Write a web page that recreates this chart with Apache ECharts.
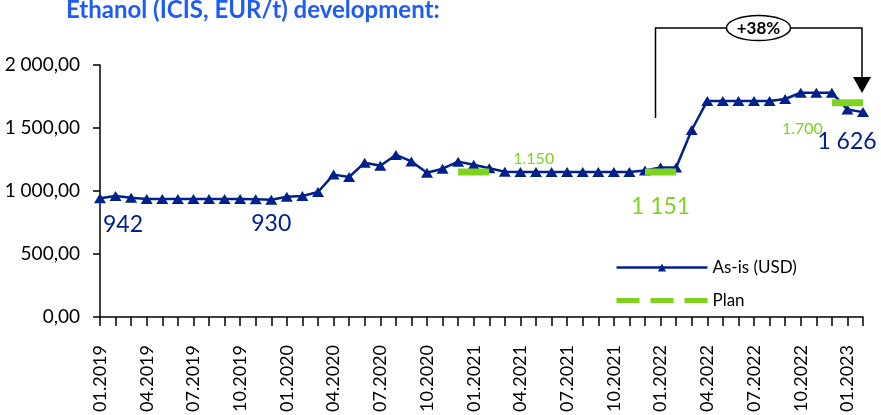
<!DOCTYPE html>
<html>
<head>
<meta charset="utf-8">
<title>Ethanol development</title>
<script src="https://cdn.jsdelivr.net/npm/echarts@6.0.0/dist/echarts.min.js"></script>
<style>
  html, body { margin: 0; padding: 0; background: #fff; }
  #chart { width: 881px; height: 415px; }
</style>
</head>
<body>
<div id="chart"></div>
<script>
// monthly categories
const months = [
  "01.2019", "02.2019", "03.2019", "04.2019", "05.2019", "06.2019", "07.2019", "08.2019", "09.2019", "10.2019", "11.2019", "12.2019",
  "01.2020", "02.2020", "03.2020", "04.2020", "05.2020", "06.2020", "07.2020", "08.2020", "09.2020", "10.2020", "11.2020", "12.2020",
  "01.2021", "02.2021", "03.2021", "04.2021", "05.2021", "06.2021", "07.2021", "08.2021", "09.2021", "10.2021", "11.2021", "12.2021",
  "01.2022", "02.2022", "03.2022", "04.2022", "05.2022", "06.2022", "07.2022", "08.2022", "09.2022", "10.2022", "11.2022", "12.2022",
  "01.2023", "02.2023"
];

// As-is price, EUR/t
const asIsValues = [
  942, 960, 947, 936, 937, 936, 936, 936, 936, 936, 934, 930,
  955, 960, 992, 1130, 1111, 1225, 1200, 1286, 1235, 1145, 1177, 1233,
  1209, 1180, 1153, 1151, 1151, 1151, 1151, 1151, 1151, 1151, 1150, 1163,
  1186, 1186, 1484, 1715, 1715, 1715, 1715, 1715, 1730, 1780, 1780, 1780,
  1646, 1626
];

// plan segments (null = no plan)
const planValues = [
  null, null, null, null, null, null, null, null, null, null, null, null,
  null, null, null, null, null, null, null, null, null, null, null, 1150,
  1150, 1150, null, null, null, null, null, null, null, null, null, 1150,
  1150, 1150, null, null, null, null, null, null, null, null, null, 1700,
  1700, 1700
];

// value callouts: [index, text]
const asIsCallouts = [[0, "942"], [11, "930"], [49, "1 626"]];
const planCallouts = [[24, "1.150"], [36, "1 151"], [48, "1.700"]];

const seriesNames = ["As-is (USD)", "Plan"];
const titleText = "Ethanol (ICIS, EUR/t) development:";
const changeText = "+38%";

const NAVY = "#00208c";
const GREEN = "#7fd320";
const FONT = "Lato";

// label placement for the callouts
const asIsLabelStyle = {
  0: { position: "bottom", align: "left", distance: 10, offset: [3, 0] },
  11: { position: "bottom", distance: 7 },
  49: { position: "bottom", distance: 13, offset: [-16, 0] },
};
const planLabelStyle = {
  24: { position: "top", distance: 5, offset: [60, 0], fontSize: 16 },
  36: { position: "bottom", distance: 22, fontSize: 23 },
  48: { position: "bottom", distance: 18, offset: [-45, 0], fontSize: 16 },
};

// callout points get a tiny symbol so their label is drawn
function withCallouts(values, callouts, styles, color, defaultSize, pointSymbol) {
  return values.map((v, i) => {
    const c = callouts.find((x) => x[0] === i);
    if (!c) return v;
    const item = {
      value: v,
      label: Object.assign(
        { show: true, formatter: c[1], color: color, fontFamily: FONT, fontSize: defaultSize },
        styles[i]
      ),
    };
    if (pointSymbol) {
      item.symbol = pointSymbol;
      item.symbolSize = 1;
    }
    return item;
  });
}

function fmtY(v) {
  const parts = v.toFixed(2).split(".");
  return parts[0].replace(/\B(?=(\d{3})+(?!\d))/g, " ") + "," + parts[1];
}

const chart = echarts.init(document.getElementById("chart"));

chart.setOption({
  backgroundColor: "#fff",
  animation: false,
  textStyle: { fontFamily: FONT },
  title: {
    text: titleText,
    left: 66,
    top: -2,
    padding: 0,
    textStyle: { color: "#1f5cf5", fontSize: 24, fontWeight: "bold", fontFamily: FONT },
  },
  grid: {
    left: 100,
    right: 18,
    top: 65,
    bottom: 98,
    outerBoundsMode: "none",
  },
  legend: {
    orient: "vertical",
    left: 614,
    top: 259,
    padding: 0,
    itemWidth: 91,
    itemHeight: 10,
    itemGap: 16,
    textStyle: { color: "#000", fontSize: 17, fontFamily: FONT },
    data: [
      { name: seriesNames[0], lineStyle: { width: 2.5, color: NAVY } },
      {
        name: seriesNames[1],
        lineStyle: { width: 5, color: GREEN, type: [23, 11] },
        itemStyle: { opacity: 0 },
      },
    ],
  },
  xAxis: {
    type: "category",
    data: months,
    boundaryGap: false,
    axisLine: { lineStyle: { color: "#000", width: 1.5 } },
    axisTick: { show: true, interval: 0, length: 9, lineStyle: { color: "#000", width: 1.5 } },
    axisLabel: {
      interval: 2,
      rotate: 90,
      margin: 28,
      color: "#000",
      fontSize: 18,
      fontFamily: FONT,
    },
    splitLine: { show: false },
  },
  yAxis: {
    type: "value",
    min: 0,
    max: 2000,
    interval: 500,
    axisLine: { show: true, lineStyle: { color: "#000", width: 1.5 } },
    axisTick: { show: true, length: 7, lineStyle: { color: "#000", width: 1.5 } },
    axisLabel: { formatter: fmtY, margin: 20, color: "#000", fontSize: 19, fontFamily: FONT },
    splitLine: { show: false },
  },
  series: [
    {
      name: seriesNames[0],
      type: "line",
      data: withCallouts(asIsValues, asIsCallouts, asIsLabelStyle, NAVY, 23, null),
      symbol: "triangle",
      symbolSize: [12, 10],
      showAllSymbol: true,
      lineStyle: { color: NAVY, width: 2.5 },
      itemStyle: { color: NAVY },
      z: 2,
    },
    {
      name: seriesNames[1],
      type: "line",
      data: withCallouts(planValues, planCallouts, planLabelStyle, GREEN, 16, "circle"),
      symbol: "none",
      showAllSymbol: true,
      connectNulls: false,
      lineStyle: { color: GREEN, width: 7, cap: "butt" },
      itemStyle: { color: GREEN },
      z: 3,
    },
  ],
  graphic: [
    {
      type: "polyline",
      shape: { points: [[655.5, 118], [655.5, 28], [862, 28], [862, 80]] },
      style: { stroke: "#000", lineWidth: 1.5, fill: null },
      z: 10,
    },
    {
      type: "polygon",
      shape: { points: [[853, 77], [871, 77], [862, 93]] },
      style: { fill: "#000" },
      z: 10,
    },
    {
      type: "ellipse",
      shape: { cx: 758.5, cy: 28, rx: 32, ry: 12.5 },
      style: { fill: "#fff", stroke: "#000", lineWidth: 1.5 },
      z: 11,
    },
    {
      type: "text",
      x: 758.5,
      y: 29,
      style: {
        text: changeText,
        fill: "#000",
        font: "bold 17px Lato",
        textAlign: "center",
        textVerticalAlign: "middle",
      },
      z: 12,
    },
  ],
});
</script>
</body>
</html>
